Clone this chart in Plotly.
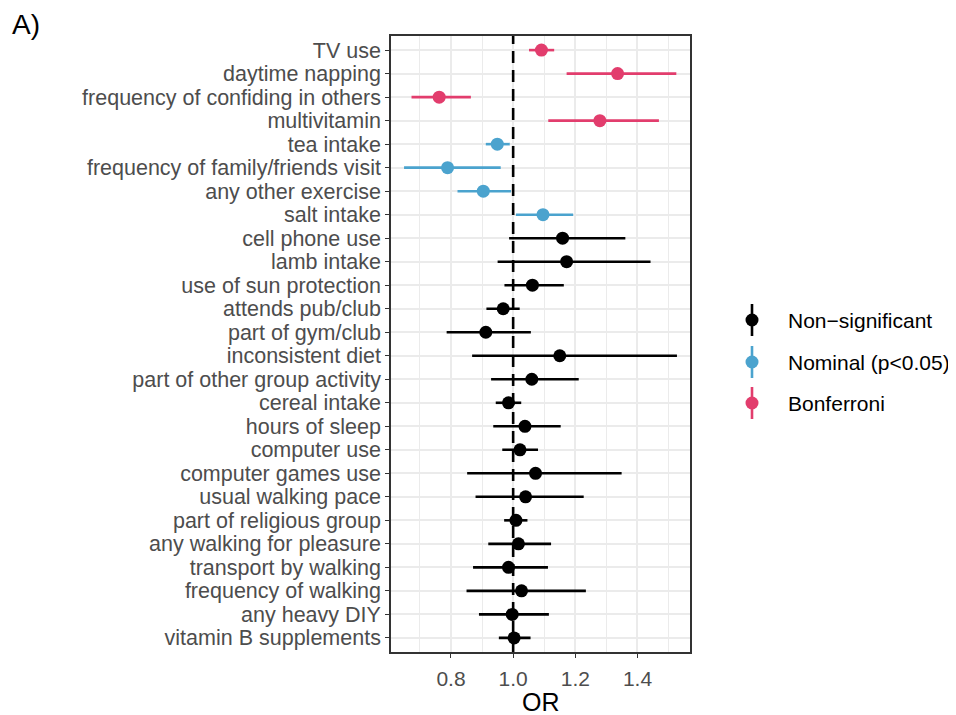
import plotly.graph_objects as go

# Data (top to bottom as in the chart)
labels = [
    "TV use", "daytime napping", "frequency of confiding in others", "multivitamin",
    "tea intake", "frequency of family/friends visit", "any other exercise", "salt intake",
    "cell phone use", "lamb intake", "use of sun protection", "attends pub/club",
    "part of gym/club", "inconsistent diet", "part of other group activity", "cereal intake",
    "hours of sleep", "computer use", "computer games use", "usual walking pace",
    "part of religious group", "any walking for pleasure", "transport by walking",
    "frequency of walking", "any heavy DIY", "vitamin B supplements",
]
odds_ratio = [1.091, 1.336, 0.762, 1.279, 0.949, 0.789, 0.904, 1.096,
              1.159, 1.172, 1.062, 0.968, 0.912, 1.150, 1.060, 0.985,
              1.038, 1.022, 1.072, 1.040, 1.009, 1.017, 0.985, 1.027, 0.997, 1.003]
ci_low = [1.051, 1.172, 0.673, 1.113, 0.912, 0.649, 0.821, 1.009,
          0.987, 0.950, 0.972, 0.914, 0.786, 0.868, 0.929, 0.944,
          0.936, 0.965, 0.852, 0.879, 0.971, 0.920, 0.871, 0.850, 0.890, 0.954]
ci_high = [1.132, 1.525, 0.864, 1.469, 0.989, 0.960, 0.993, 1.193,
           1.361, 1.442, 1.163, 1.021, 1.057, 1.527, 1.211, 1.026,
           1.153, 1.080, 1.349, 1.227, 1.046, 1.122, 1.112, 1.234, 1.115, 1.056]
significance = (["Bonferroni"] * 4 + ["Nominal (p<0.05)"] * 4 + ["Non-significant"] * 18)

groups = ["Non-significant", "Nominal (p<0.05)", "Bonferroni"]
legend_text = ["Non\u2212significant", "Nominal (p<0.05)", "Bonferroni"]
colors = {"Non-significant": "#000000", "Nominal (p<0.05)": "#4BA3CE", "Bonferroni": "#E23D6D"}

x_ticks = [0.8, 1.0, 1.2, 1.4]
x_minor = [0.7, 0.9, 1.1, 1.3, 1.5]
x_title = "OR"

FONT = "Liberation Sans, Arial, Helvetica, sans-serif"

fig = go.Figure()
for g in groups:
    idx = [i for i, s in enumerate(significance) if s == g]
    fig.add_trace(go.Scatter(
        x=[odds_ratio[i] for i in idx],
        y=[labels[i] for i in idx],
        mode="markers",
        marker=dict(color=colors[g], size=13, line=dict(width=0)),
        error_x=dict(type="data", symmetric=False,
                     array=[ci_high[i] - odds_ratio[i] for i in idx],
                     arrayminus=[odds_ratio[i] - ci_low[i] for i in idx],
                     color=colors[g], thickness=2.6, width=0),
        showlegend=False, name=g,
    ))

# vertical reference line at OR = 1
fig.add_shape(type="line", x0=1, x1=1, y0=0, y1=1, xref="x", yref="paper",
              line=dict(color="black", width=2.6, dash="12px,7px"), layer="above")

# page geometry (browser body has an 8px margin)
OFF = 8
PAGE_W, PAGE_H = 956, 715
W, H = PAGE_W - OFF, PAGE_H - OFF
L, R, T, B = 391, 690, 36, 652   # plot panel in page pixels

def px(xp):
    return (xp - L) / (R - L)
def py(yp):
    return (B - yp) / (B - T)

leg_x = 752
leg_y = [320, 362, 403]
for g, txt, yy in zip(groups, legend_text, leg_y):
    c = colors[g]
    fig.add_shape(type="line", xref="paper", yref="paper",
                  x0=px(leg_x), x1=px(leg_x), y0=py(yy - 16), y1=py(yy + 16),
                  line=dict(color=c, width=2.6))
    fig.add_shape(type="circle", xref="paper", yref="paper",
                  x0=px(leg_x - 6.5), x1=px(leg_x + 6.5), y0=py(yy - 6.5), y1=py(yy + 6.5),
                  fillcolor=c, line=dict(width=0))
    fig.add_annotation(text=txt, xref="paper", yref="paper", x=px(786), y=py(yy),
                       xanchor="left", yanchor="middle", showarrow=False,
                       font=dict(family=FONT, size=21, color="black"))

fig.add_annotation(text="A)", xref="paper", yref="paper", x=px(10), y=py(24),
                   xanchor="left", yanchor="middle", showarrow=False,
                   font=dict(family=FONT, size=28, color="black"))

# x-axis title
fig.add_annotation(text=x_title, xref="paper", yref="paper", x=0.5, y=py(702),
                   xanchor="center", yanchor="middle", showarrow=False,
                   font=dict(family=FONT, size=25, color="black"))

fig.update_layout(
    width=W, height=H,
    margin=dict(l=L - OFF, r=PAGE_W - R, t=T - OFF, b=PAGE_H - B),
    plot_bgcolor="white", paper_bgcolor="white",
    font=dict(family=FONT),
    xaxis=dict(
        range=[0.607, 1.569],
        tickvals=x_ticks, ticktext=[f"{v:.1f}" for v in x_ticks],
        showgrid=True, gridcolor="#EBEBEB", gridwidth=1.6,
        minor=dict(tickvals=x_minor, showgrid=True, gridcolor="#EBEBEB", gridwidth=0.9, ticks=""),
        ticks="outside", ticklen=4, tickcolor="#333333", tickwidth=1.3,
        ticklabelstandoff=3,
        tickfont=dict(family=FONT, size=21, color="#4D4D4D"),
        showline=True, linecolor="#333333", linewidth=1.6, mirror=True,
        zeroline=False, automargin=False,
    ),
    yaxis=dict(
        type="category",
        categoryorder="array", categoryarray=labels[::-1],
        tickmode="array", tickvals=labels, ticktext=labels,
        range=[-0.6, len(labels) - 0.4],
        showgrid=True, gridcolor="#EBEBEB", gridwidth=1.6,
        ticks="outside", ticklen=4, tickcolor="#333333", tickwidth=1.3,
        tickfont=dict(family=FONT, size=21.5, color="#4D4D4D"),
        showline=True, linecolor="#333333", linewidth=1.6, mirror=True,
        zeroline=False, automargin=False,
    ),
)

fig.write_html("out.html")
